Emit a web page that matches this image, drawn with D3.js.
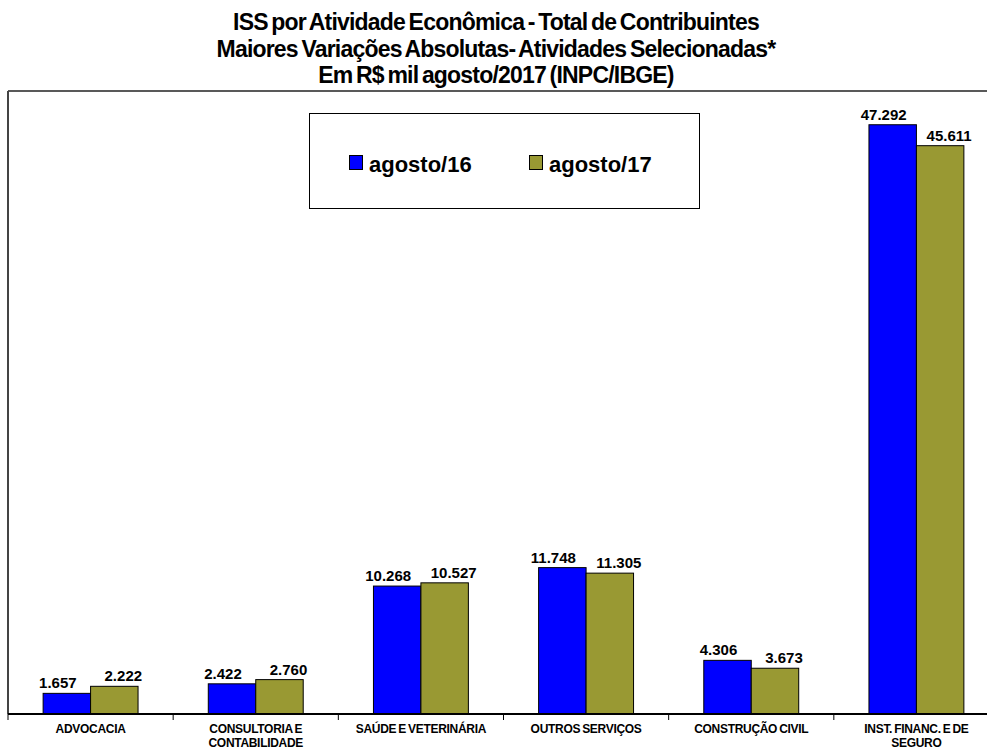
<!DOCTYPE html>
<html>
<head>
<meta charset="utf-8">
<script src="https://cdn.jsdelivr.net/npm/d3@7/dist/d3.min.js"></script>
<style>
  html, body { margin: 0; padding: 0; background: #fff; }
  svg { display: block; font-family: Arial, "Liberation Sans", sans-serif; }
</style>
</head>
<body>
<svg id="chart" width="987" height="749"></svg>
<script>
// ISS por atividade econômica — valores em R$ mil
const categories = [
  ["ADVOCACIA"],
  ["CONSULTORIA E", "CONTABILIDADE"],
  ["SAÚDE E VETERINÁRIA"],
  ["OUTROS SERVIÇOS"],
  ["CONSTRUÇÃO CIVIL"],
  ["INST. FINANC. E DE", "SEGURO"]
];
const seriesNames = ["agosto/16", "agosto/17"];
const values2016 = [1657, 2422, 10268, 11748, 4306, 47292];
const values2017 = [2222, 2760, 10527, 11305, 3673, 45611];
const seriesColors = ["#0000FF", "#999933"];
const titleLines = [
  "ISS por Atividade Econômica - Total de Contribuintes",
  "Maiores Variações Absolutas- Atividades Selecionadas*",
  "Em R$ mil agosto/2017 (INPC/IBGE)"
];

const fmt = v => d3.format(",")(v).replace(/,/g, ".");

const svg = d3.select("#chart");
const plotLeft = 8, plotRight = 999, plotTop = 91, plotBottom = 714;

const catKeys = categories.map(c => c.join(" "));
const x0 = d3.scaleBand().domain(catKeys).range([plotLeft, plotRight]).paddingInner(0).paddingOuter(0);
const x1 = d3.scaleBand().domain(seriesNames).range([0, x0.bandwidth()]).paddingInner(0).paddingOuter(0.74);
const y = d3.scaleLinear().domain([0, 50000]).range([plotBottom, plotTop]);

const rows = categories.map((c, i) => ({
  key: catKeys[i],
  vals: [values2016[i], values2017[i]]
}));

// title
const title = svg.append("g").attr("font-weight", "bold").attr("font-size", 23)
  .attr("text-anchor", "middle").attr("fill", "#000");
titleLines.forEach((t, i) => {
  title.append("text")
    .attr("x", 496).attr("y", 30 + i * 26.5)
    .attr("letter-spacing", "-0.8")
    .attr("word-spacing", "-2")
    .text(t);
});

// plot frame: top and left edges
svg.append("line").attr("x1", plotLeft).attr("x2", 987).attr("y1", plotTop).attr("y2", plotTop)
  .attr("stroke", "#222").attr("stroke-width", 1.5);
svg.append("line").attr("x1", plotLeft).attr("x2", plotLeft).attr("y1", plotTop).attr("y2", plotBottom)
  .attr("stroke", "#444").attr("stroke-width", 2);

// bars
const groups = svg.append("g").selectAll("g").data(rows).join("g")
  .attr("transform", d => `translate(${x0(d.key)},0)`);

groups.selectAll("rect").data(d => d.vals.map((v, j) => ({ s: seriesNames[j], v, j })))
  .join("rect")
  .attr("x", d => x1(d.s))
  .attr("y", d => y(d.v))
  .attr("width", x1.bandwidth())
  .attr("height", d => y(0) - y(d.v))
  .attr("fill", d => seriesColors[d.j])
  .attr("stroke", "#000").attr("stroke-width", 1);

// value labels
groups.selectAll("text.val").data(d => d.vals.map((v, j) => ({ s: seriesNames[j], v, j })))
  .join("text").attr("class", "val")
  .attr("x", d => x1(d.s) + x1.bandwidth() / 2 + (d.j === 0 ? -9 : 9))
  .attr("y", d => y(d.v) - 5)
  .attr("text-anchor", "middle")
  .attr("font-size", 15).attr("font-weight", "bold")
  .text(d => fmt(d.v));

// category axis
const xAxis = d3.axisBottom(x0).tickSize(0).tickFormat("");
const axisG = svg.append("g").attr("transform", `translate(0,${plotBottom})`).call(xAxis);
axisG.select(".domain").remove();
svg.append("line").attr("x1", plotLeft).attr("x2", 987).attr("y1", plotBottom).attr("y2", plotBottom)
  .attr("stroke", "#000").attr("stroke-width", 2);

// boundary ticks between categories
const bounds = catKeys.map(k => x0(k)).concat([x0(catKeys[catKeys.length - 1]) + x0.bandwidth()]);
svg.append("g").selectAll("line").data(bounds.filter(b => b < 987)).join("line")
  .attr("x1", d => d).attr("x2", d => d)
  .attr("y1", plotBottom).attr("y2", plotBottom + 6)
  .attr("stroke", "#000").attr("stroke-width", 1);

// category labels (two-line names stacked)
const lab = svg.append("g").selectAll("text").data(categories).join("text")
  .attr("text-anchor", "middle")
  .attr("font-size", 12).attr("font-weight", "bold")
  .attr("letter-spacing", "-0.3")
  .attr("word-spacing", "-1")
  .attr("transform", (d, i) => `translate(${x0(catKeys[i]) + x0.bandwidth() / 2},0)`);
lab.each(function(d) {
  d.forEach((line, k) => {
    d3.select(this).append("tspan").attr("x", 0).attr("y", 733 + k * 14).text(line);
  });
});

// legend
const lg = svg.append("g");
lg.append("rect").attr("x", 309.5).attr("y", 113.5).attr("width", 390).attr("height", 95)
  .attr("fill", "#fff").attr("stroke", "#000").attr("stroke-width", 1);
const legX = [349, 529];
seriesNames.forEach((s, i) => {
  lg.append("rect").attr("x", legX[i] + 0.5).attr("y", 155.5).attr("width", 13).attr("height", 14)
    .attr("fill", seriesColors[i]).attr("stroke", "#000").attr("stroke-width", 1);
  lg.append("text").attr("x", legX[i] + 20).attr("y", 172)
    .attr("font-size", 22).attr("font-weight", "bold").text(s);
});
</script>
</body>
</html>
